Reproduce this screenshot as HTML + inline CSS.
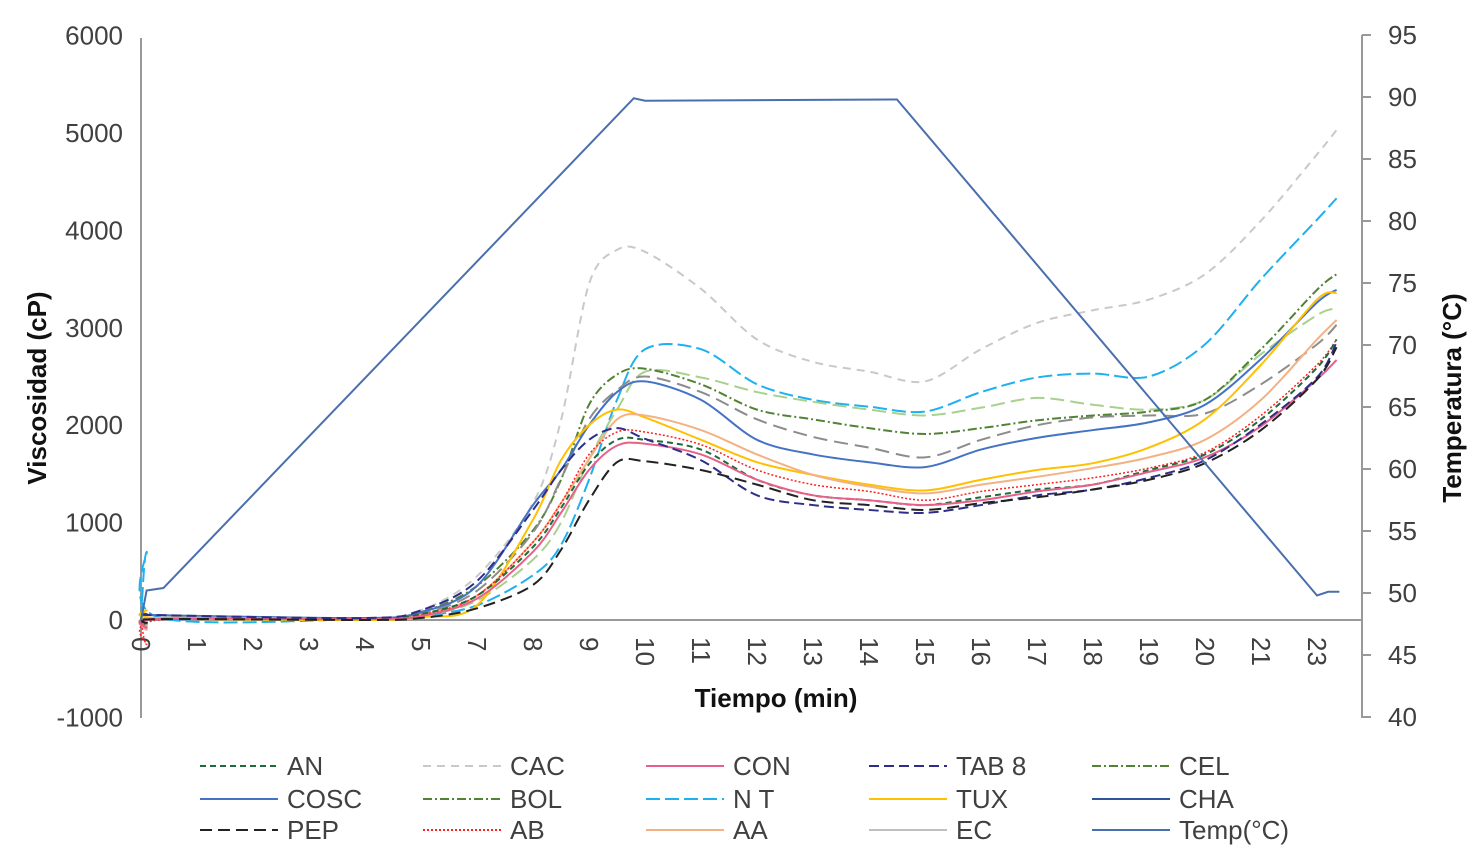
<!DOCTYPE html>
<html><head><meta charset="utf-8">
<style>
html,body{margin:0;padding:0;background:#fff;}
svg{display:block;font-family:"Liberation Sans",sans-serif;}
</style></head>
<body>
<svg id="chart" width="1471" height="862" viewBox="0 0 1471 862" xmlns="http://www.w3.org/2000/svg">
<g id="axes"></g>
<g id="series"></g>
<g id="legend"></g>
<text x="776" y="707" text-anchor="middle" font-size="26" font-weight="bold" fill="#111">Tiempo (min)</text>
<text transform="translate(46,388) rotate(-90)" text-anchor="middle" font-size="26" font-weight="bold" fill="#111">Viscosidad (cP)</text>
<text transform="translate(1461,398) rotate(-90)" text-anchor="middle" font-size="26" font-weight="bold" fill="#111">Temperatura (°C)</text>
</svg>
<script>
const xTickLabels = ["0","1","2","3","4","5","7","8","9","10","11","12","13","14","15","16","17","18","19","20","21","23"];
const yTicks = [-1000,0,1000,2000,3000,4000,5000,6000];
const y2Ticks = [40,45,50,55,60,65,70,75,80,85,90,95];
const U = [0,0.1,0.3,4,5,6,7,7.5,8,8.5,9,10,11,12,13,14,15,16,17,18,19,20,21,21.35];
const CAC = [0,-50,20,10,100,450,1200,2050,3450,3800,3780,3400,2880,2650,2550,2450,2780,3050,3180,3290,3550,4100,4780,5030];
const NT = [0,700,30,10,40,150,460,770,1440,2260,2780,2780,2420,2260,2190,2140,2340,2490,2530,2500,2830,3500,4110,4330];
const BOL = [0,-80,20,10,80,350,920,1440,2210,2520,2580,2420,2160,2060,1970,1910,1970,2050,2100,2140,2260,2780,3390,3550];
const CEL = [0,-60,20,10,40,200,620,1000,1650,2160,2550,2490,2340,2240,2160,2100,2180,2280,2210,2160,2260,2730,3130,3200];
const EC = [0,-40,20,10,60,300,900,1450,2060,2360,2500,2340,2060,1880,1770,1670,1850,2000,2080,2100,2120,2420,2830,3030];
const COSC = [60,60,50,20,80,350,1180,1540,2000,2340,2450,2260,1850,1700,1620,1570,1750,1870,1950,2030,2210,2680,3260,3390];
const TUX = [0,100,20,0,30,150,1030,1640,2000,2160,2080,1850,1620,1490,1390,1330,1440,1540,1610,1770,2060,2620,3290,3360];
const AA = [0,-100,20,10,50,250,800,1200,1650,2060,2100,1950,1700,1490,1370,1300,1390,1470,1560,1670,1850,2260,2880,3080];
const AB = [0,-250,0,10,50,250,800,1200,1700,1930,1930,1800,1540,1390,1320,1230,1320,1390,1460,1560,1720,2100,2620,2880];
const AN = [0,-50,10,10,60,250,750,1150,1600,1850,1850,1750,1440,1280,1230,1180,1260,1340,1390,1540,1700,2060,2590,2880];
const CON = [0,-80,10,10,40,220,700,1100,1540,1790,1810,1700,1440,1280,1230,1180,1230,1320,1390,1520,1670,1990,2470,2670];
const TAB8 = [60,60,50,20,100,400,1130,1540,1850,1970,1860,1640,1280,1180,1130,1100,1180,1280,1340,1460,1640,2010,2490,2850];
const PEP = [0,-30,10,0,20,120,360,720,1230,1620,1630,1540,1390,1230,1180,1130,1200,1260,1340,1440,1610,1950,2470,2800];
const TU = [0,0.1,0.4,8.8,9.0,13.5,21,21.2,21.4];
const TEMP = [47.8,50.2,50.4,89.9,89.7,89.8,49.8,50.1,50.1];

const NS="http://www.w3.org/2000/svg";
const X0=141, XS=56;
const xPos=u=>X0+u*XS;
const yPos=v=>620-v*0.0974;
const y2Pos=t=>717-(t-40)*12.4;
function mk(tag,attrs,parent){const e=document.createElementNS(NS,tag);for(const k in attrs)e.setAttribute(k,attrs[k]);parent.appendChild(e);return e;}
const axes=document.getElementById('axes');
let e;
e=mk('line',{x1:X0,y1:38,x2:X0,y2:718,stroke:'#999','stroke-width':2},axes);


e=mk('line',{x1:X0,y1:620,x2:1362,y2:620,stroke:'#999','stroke-width':2},axes);


e=mk('line',{x1:1362,y1:35,x2:1362,y2:718,stroke:'#999','stroke-width':2},axes);


yTicks.forEach(v=>{const t=mk('text',{x:123,y:yPos(v)+9,'text-anchor':'end','font-size':26,fill:'#404040'},axes);t.textContent=String(v);

});
y2Ticks.forEach(v=>{const l=mk('line',{x1:1362,y1:y2Pos(v),x2:1371,y2:y2Pos(v),stroke:'#999','stroke-width':2},axes);


const t=mk('text',{x:1388,y:y2Pos(v)+9,'font-size':26,fill:'#404040'},axes);t.textContent=String(v);

});
xTickLabels.forEach((s,i)=>{const t=mk('text',{transform:`translate(${xPos(i)-9},637) rotate(90)`,'font-size':26,fill:'#404040'},axes);t.textContent=s;

});

function smooth(pts){let d=`M${pts[0][0]},${pts[0][1]}`;for(let i=0;i<pts.length-1;i++){const p0=pts[i-1]||pts[i],p1=pts[i],p2=pts[i+1],p3=pts[i+2]||p2;const k=0.16;
d+=` C${p1[0]+(p2[0]-p0[0])*k},${p1[1]+(p2[1]-p0[1])*k} ${p2[0]-(p3[0]-p1[0])*k},${p2[1]-(p3[1]-p1[1])*k} ${p2[0]},${p2[1]}`;}return d;}
const seriesG=document.getElementById('series');
const defs=[
 ['cac',CAC,'#c9c9c9','8,6',2],['nt',NT,'#1fb0ef','14,5',2],['cel',CEL,'#a9d18e','14,6',2],['bol',BOL,'#548235','9,3,2,3',2],
 ['ec',EC,'#8c8c8c','14,7',2],['cosc',COSC,'#4472c4','',2],['tux',TUX,'#ffc000','',2],['aa',AA,'#f4b183','',2],
 ['ab',AB,'#ff2020','2,2',1.5],['an',AN,'#1e6b3a','6,4',2],['con',CON,'#e8608a','',2],['tab8',TAB8,'#2e2e8a','10,5',2],['pep',PEP,'#222222','12,6',2]];
defs.forEach(([n,vals,c,da,w])=>{const pts=U.map((u,i)=>[xPos(u),yPos(vals[i])]);
const p=mk('path',{d:smooth(pts),fill:'none',stroke:c,'stroke-width':w,'stroke-dasharray':da},seriesG);

});
const tp=mk('polyline',{points:TU.map((u,i)=>xPos(u)+','+y2Pos(TEMP[i])).join(' '),fill:'none',stroke:'#4a6fae','stroke-width':2},seriesG);



const legendItems=[['AN','#1e6b3a','6,4'],['CAC','#c9c9c9','8,6'],['CON','#e8608a',''],['TAB 8','#2e2e8a','10,5'],['CEL','#548235','9,3,2,3'],
['COSC','#4472c4',''],['BOL','#548235','9,3,2,3'],['N T','#1fb0ef','14,5'],['TUX','#ffc000',''],['CHA','#2f5597',''],
['PEP','#222222','12,6'],['AB','#ff2020','2,2'],['AA','#f4b183',''],['EC','#bfbfbf',''],['Temp(°C)','#4a6fae','']];
const lg=document.getElementById('legend');
const colX=[200,423,646,869,1092], rowY=[766,799,830];
legendItems.forEach(([n,c,da],i)=>{const x=colX[i%5],y=rowY[Math.floor(i/5)];
const g=mk('g',{},lg);


mk('line',{x1:x,y1:y,x2:x+78,y2:y,stroke:c,'stroke-width':2,'stroke-dasharray':da},g);
const t=mk('text',{x:x+87,y:y+9,'font-size':26,fill:'#404040'},g);t.textContent=n;});
</script>
</body></html>
